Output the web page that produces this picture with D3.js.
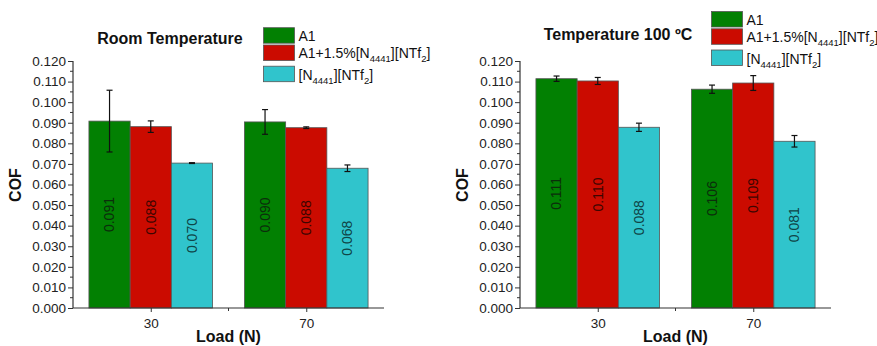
<!DOCTYPE html>
<html>
<head>
<meta charset="utf-8">
<script src="https://cdn.jsdelivr.net/npm/d3@7/dist/d3.min.js"></script>
<style>
  body { margin: 0; background: #fff; }
  text { font-family: "Liberation Sans", Arial, sans-serif; }
</style>
</head>
<body>
<script>
var width = 877;
var height = 346;

// categories and series
var loads = ["30", "70"];
var seriesNames = ["A1", "A1+1.5%[N4441][NTf2]", "[N4441][NTf2]"];
var colors = ["#028002", "#cb0b00", "#30c4cc"];
var labelColors = ["#0b2e0b", "#3d0500", "#0f4547"];

// room temperature COF (per series, per load)
var roomA1 = [0.0908, 0.0904];
var roomMix = [0.0881, 0.0876];
var roomIL = [0.0704, 0.0679];
var roomA1Err = [0.0150, 0.0060];
var roomMixErr = [0.0028, 0.0004];
var roomILErr = [0.0002, 0.0016];

// 100 ºC COF
var hotA1 = [0.1114, 0.1063];
var hotMix = [0.1103, 0.1093];
var hotIL = [0.0878, 0.0810];
var hotA1Err = [0.0013, 0.0020];
var hotMixErr = [0.0017, 0.0036];
var hotILErr = [0.0020, 0.0028];

var yTicks = d3.range(0, 0.1201, 0.01);

var svg = d3.select("body")
  .append("svg")
  .attr("width", width)
  .attr("height", height);

function drawPanel(cfg, vals, errs) {
  var g = svg.append("g");

  var x = d3.scaleLinear().domain([0.5, 2.5]).range([cfg.x0, cfg.x0 + 311]);
  var y = d3.scaleLinear().domain([0, 0.12]).range([308, 61]);
  var bw = 0.265; // bar width in category units

  // bars
  vals.forEach(function(series, si) {
    var data = series.map(function(v, i) {
      return { v: v, e: errs[si][i], c: i + 1 };
    });
    var left = function(d) { return x(d.c + (si - 1.5) * bw); };
    var bwPx = x(1 + bw) - x(1);

    g.selectAll(".bar" + si)
      .data(data)
      .enter().append("rect")
      .attr("x", left)
      .attr("y", function(d) { return y(d.v); })
      .attr("width", bwPx)
      .attr("height", function(d) { return y(0) - y(d.v); })
      .attr("fill", colors[si])
      .attr("stroke", "#555")
      .attr("stroke-width", 0.8);

    // error bars
    var eb = g.selectAll(".err" + si)
      .data(data)
      .enter().append("g")
      .attr("stroke", "#111")
      .attr("stroke-width", 1.2);
    var cx = function(d) { return left(d) + bwPx / 2; };
    eb.append("line")
      .attr("x1", cx).attr("x2", cx)
      .attr("y1", function(d) { return y(d.v + d.e); })
      .attr("y2", function(d) { return y(d.v - d.e); });
    eb.append("line")
      .attr("x1", function(d) { return cx(d) - 3; })
      .attr("x2", function(d) { return cx(d) + 3; })
      .attr("y1", function(d) { return y(d.v + d.e); })
      .attr("y2", function(d) { return y(d.v + d.e); });
    eb.append("line")
      .attr("x1", function(d) { return cx(d) - 3; })
      .attr("x2", function(d) { return cx(d) + 3; })
      .attr("y1", function(d) { return y(d.v - d.e); })
      .attr("y2", function(d) { return y(d.v - d.e); });

    // value labels, rotated inside the bar
    g.selectAll(".lab" + si)
      .data(data)
      .enter().append("text")
      .attr("transform", function(d) {
        return "translate(" + cx(d) + "," + (y(d.v) + y(0)) / 2 + ") rotate(-90)";
      })
      .attr("text-anchor", "middle")
      .attr("dy", "0.35em")
      .attr("font-size", 14)
      .attr("fill", labelColors[si])
      .text(function(d) { return d3.format(".3f")(d.v); });
  });

  // y axis
  var yAxis = g.append("g")
    .attr("transform", "translate(" + cfg.x0 + ",0)")
    .call(d3.axisLeft(y).tickValues(yTicks).tickFormat(d3.format(".3f")).tickSize(5).tickPadding(2));
  yAxis.append("g").selectAll("line")
    .data(d3.range(0.005, 0.12, 0.01))
    .enter().append("line")
    .attr("x1", -3).attr("x2", 0)
    .attr("y1", function(d) { return y(d); })
    .attr("y2", function(d) { return y(d); })
    .attr("stroke", "#333");

  // x axis
  var xAxis = g.append("g")
    .attr("transform", "translate(0,308)")
    .call(d3.axisBottom(x).tickValues([1, 2])
      .tickFormat(function(d) { return loads[d - 1]; })
      .tickSize(4).tickPadding(6));
  xAxis.append("line")
    .attr("x1", x(1.5)).attr("x2", x(1.5))
    .attr("y1", 0).attr("y2", 3)
    .attr("stroke", "#333");

  [yAxis, xAxis].forEach(function(a) {
    a.select(".domain").attr("stroke", "#333").attr("stroke-width", 1.2)
      .attr("d", a === yAxis ? "M0,308V61" : "M" + cfg.x0 + ",0H" + (cfg.x0 + 311));
    a.selectAll(".tick line").attr("stroke", "#333");
    a.selectAll(".tick text").attr("font-size", 13.5).attr("fill", "#222")
      .style("font-family", "Liberation Sans, Arial, sans-serif");
  });

  // axis titles
  g.append("text")
    .attr("transform", "translate(" + (cfg.x0 - 52) + ",185) rotate(-90)")
    .attr("text-anchor", "middle")
    .attr("font-size", 16).attr("font-weight", "bold").attr("fill", "#111")
    .text("COF");
  g.append("text")
    .attr("x", x(1.5)).attr("y", 342)
    .attr("text-anchor", "middle")
    .attr("font-size", 16).attr("font-weight", "bold").attr("fill", "#111")
    .text("Load (N)");

  // panel title
  g.append("text")
    .attr("x", cfg.titleX).attr("y", cfg.titleY)
    .attr("text-anchor", "middle")
    .attr("font-size", 16).attr("font-weight", "bold").attr("fill", "#111")
    .text(cfg.title);

  // legend
  var rowOff = [0, 17.3, 38.5];
  var leg = g.append("g").attr("transform", "translate(" + cfg.legX + "," + cfg.legY + ")");
  seriesNames.forEach(function(name, i) {
    leg.append("rect")
      .attr("x", 0).attr("y", rowOff[i])
      .attr("width", 31).attr("height", 15.5)
      .attr("fill", colors[i]).attr("stroke", "#555").attr("stroke-width", 0.8);
    var t = leg.append("text")
      .attr("x", 35).attr("y", rowOff[i] + 13.5)
      .attr("font-size", 14).attr("fill", "#111");
    // split name into normal parts and subscripts
    var parts = name.split(/(4441|(?<=NTf)2)/);
    var shift = 0;
    parts.forEach(function(p) {
      if (p === "") return;
      if (p === "4441" || p === "2") {
        t.append("tspan").attr("font-size", 9.5).attr("dy", 4).text(p);
        shift = -4;
      } else {
        t.append("tspan").attr("dy", shift).text(p);
        shift = 0;
      }
    });
  });
}

drawPanel({ x0: 73, title: "Room Temperature", titleX: 170, titleY: 44, legX: 263.5, legY: 27.7 },
  [roomA1, roomMix, roomIL], [roomA1Err, roomMixErr, roomILErr]);
drawPanel({ x0: 520, title: "Temperature 100 ºC", titleX: 618, titleY: 40, legX: 711.5, legY: 11.5 },
  [hotA1, hotMix, hotIL], [hotA1Err, hotMixErr, hotILErr]);
</script>
</body>
</html>
